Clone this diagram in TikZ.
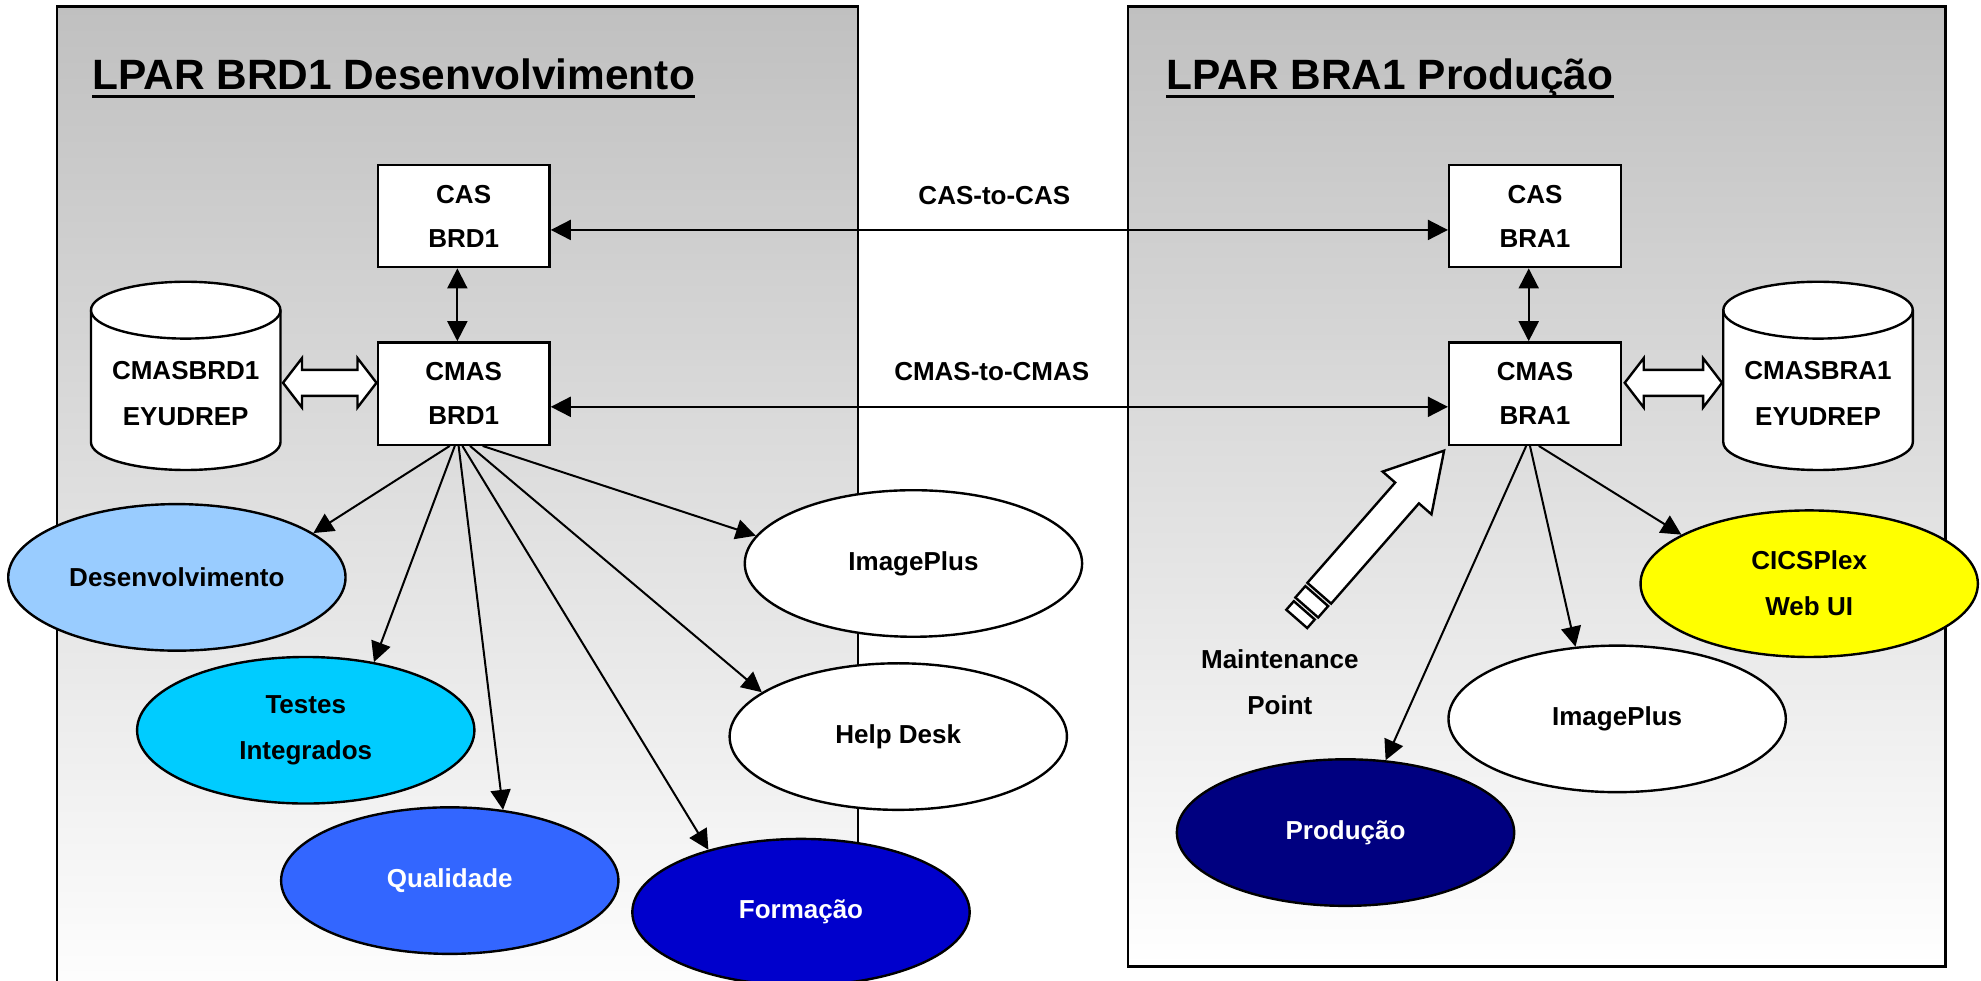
\documentclass[tikz,border=0pt]{standalone}
\usepackage{fontspec}
\setmainfont{Liberation Sans}
\usetikzlibrary{shapes.geometric,arrows.meta,calc}
\definecolor{panelgray}{RGB}{192,192,192}
\definecolor{cDes}{RGB}{153,204,255}
\definecolor{cTes}{RGB}{0,204,255}
\definecolor{cQua}{RGB}{51,102,255}
\definecolor{cFor}{RGB}{0,0,204}
\definecolor{cPro}{RGB}{0,0,128}
\definecolor{cCic}{RGB}{255,255,0}
\def\pxu{0.6317pt}
\begin{document}
\begin{tikzpicture}[x=0.6317pt,y=-0.6317pt,
  box/.style={draw,line width=1.2pt,fill=white,minimum width=136*\pxu,minimum height=81*\pxu,inner sep=0pt,align=center,font=\bfseries\fontsize{13}{22}\selectfont},
  ell/.style={ellipse,draw,line width=1.2pt,minimum width=267*\pxu,minimum height=116*\pxu,inner sep=0pt,align=center,font=\bfseries\fontsize{13}{23}\selectfont},
  lbl/.style={align=center,font=\bfseries\fontsize{13}{23}\selectfont,inner sep=0pt},
  ttl/.style={anchor=base west,inner sep=0pt,font=\bfseries\fontsize{21.2}{25}\selectfont},
  conn/.style={line width=1pt,-{Triangle[length=10pt,width=10pt]}},
  conn2/.style={line width=1pt,{Triangle[length=10pt,width=10pt]}-{Triangle[length=10pt,width=10pt]}},
  hollow/.style={draw,line width=1.2pt,fill=white,line join=miter},
  panel/.style={draw,line width=1.2pt,top color=panelgray,bottom color=white},
]
\useasboundingbox (0,0) rectangle (1568,776);
\clip (0,0) rectangle (1568,776);

% panels
\path[panel] (45,5) rectangle (679,800);
\path[panel] (893,5) rectangle (1540,765);

% titles
\node[ttl] (titleL) at (73,71) {LPAR BRD1 Desenvolvimento};
\draw[line width=1.65pt] ([yshift=-3.5pt]titleL.base west) -- ([yshift=-3.5pt]titleL.base east);
\node[ttl] (titleR) at (923,71) {LPAR BRA1 Produção};
\draw[line width=1.65pt] ([yshift=-3.5pt]titleR.base west) -- ([yshift=-3.5pt]titleR.base east);

% boxes
\node[box] (casL) at (367,171) {CAS\\BRD1};
\node[box] (cmasL) at (367,311.5) {CMAS\\BRD1};
\node[box] (casR) at (1215,171) {CAS\\BRA1};
\node[box] (cmasR) at (1215,311.5) {CMAS\\BRA1};

% cylinders
\draw[hollow] (72,245.5) -- (72,350) arc[start angle=180,end angle=360,x radius=75*\pxu,y radius=22*\pxu]
  -- (222,245.5) arc[start angle=0,end angle=180,x radius=75*\pxu,y radius=22.5*\pxu] -- cycle;
\draw[line width=1.2pt] (72,245.5) arc[start angle=180,end angle=360,x radius=75*\pxu,y radius=22.5*\pxu];
\node[lbl] (cylL) at (147,311.5) {CMASBRD1\\EYUDREP};

\draw[hollow] (1364,245.5) -- (1364,350) arc[start angle=180,end angle=360,x radius=75*\pxu,y radius=22*\pxu]
  -- (1514,245.5) arc[start angle=0,end angle=180,x radius=75*\pxu,y radius=22.5*\pxu] -- cycle;
\draw[line width=1.2pt] (1364,245.5) arc[start angle=180,end angle=360,x radius=75*\pxu,y radius=22.5*\pxu];
\node[lbl] (cylR) at (1439,311.5) {CMASBRA1\\EYUDREP};

% hollow double arrows
\draw[hollow] (224,303) -- (239,283.5) -- (239,292.7) -- (283,292.7) -- (283,283.5) -- (298,303)
  -- (283,322.5) -- (283,313.3) -- (239,313.3) -- (239,322.5) -- cycle;
\draw[hollow] (1286,303) -- (1301,283.5) -- (1301,292.7) -- (1348,292.7) -- (1348,283.5) -- (1363,303)
  -- (1348,322.5) -- (1348,313.3) -- (1301,313.3) -- (1301,322.5) -- cycle;

% link labels
\node[lbl] (lcas) at (787,155) {CAS-to-CAS};
\node[lbl] (lcmas) at (785,294) {CMAS-to-CMAS};

% ellipses
\node[ell,fill=cDes] (desenv) at (140,457) {Desenvolvimento};
\node[ell,fill=cTes] (testes) at (242,578) {Testes\\Integrados};
\node[ell,fill=cQua,text=white] (qual) at (356,697) {Qualidade};
\node[ell,fill=cFor,text=white] (form) at (634,722) {Formação};
\node[ell,fill=white] (imgL) at (723,446) {ImagePlus};
\node[ell,fill=white] (help) at (711,583) {Help Desk};
\node[ell,fill=cCic] (cics) at (1432,462) {CICSPlex\\Web UI};
\node[ell,fill=white] (imgR) at (1280,569) {ImagePlus};
\node[ell,fill=cPro,text=white] (prod) at (1065,659) {Produção};

% connectors
\draw[conn2] ($(casL.east)+(0,11)$) -- ($(casR.west)+(0,11)$);
\draw[conn2] ($(cmasL.east)+(0,10.5)$) -- ($(cmasR.west)+(0,10.5)$);
\draw[conn2] ($(casL.south)+(-5,0)$) -- ($(cmasL.north)+(-5,0)$);
\draw[conn2] ($(casR.south)+(-5,0)$) -- ($(cmasR.north)+(-5,0)$);

\draw[conn] ($(cmasL.south)+(-11,0)$) -- (desenv.18);
\draw[conn] ($(cmasL.south)+(-7,0)$) -- (testes.45);
\draw[conn] ($(cmasL.south)+(-4,0)$) -- (qual.53);
\draw[conn] ($(cmasL.south)+(-1,0)$) -- (form.146);
\draw[conn] ($(cmasL.south)+(5,0)$) -- (help.162);
\draw[conn] ($(cmasL.south)+(15,0)$) -- (imgL.170);

\draw[conn] ($(cmasR.south)+(-7,0)$) -- (prod.61);
\draw[conn] ($(cmasR.south)+(-4,0)$) -- (imgR.120);
\draw[conn] ($(cmasR.south)+(3,0)$) -- (cics.159);

% maintenance point
\node[lbl] (maint) at (1013,540) {Maintenance\\Point};
\begin{scope}[shift={(1143,356.7)},rotate=48.8]
  \draw[hollow] (0,0) -- (-44.5,25.7) -- (-44.5,12.5) -- (-150,12.5) -- (-150,-12.5) -- (-44.5,-12.5) -- (-44.5,-25.7) -- cycle;
  \draw[hollow] (-153,-12) rectangle (-165,12);
  \draw[hollow] (-168,-11) rectangle (-177,11);
\end{scope}
\end{tikzpicture}
\end{document}
